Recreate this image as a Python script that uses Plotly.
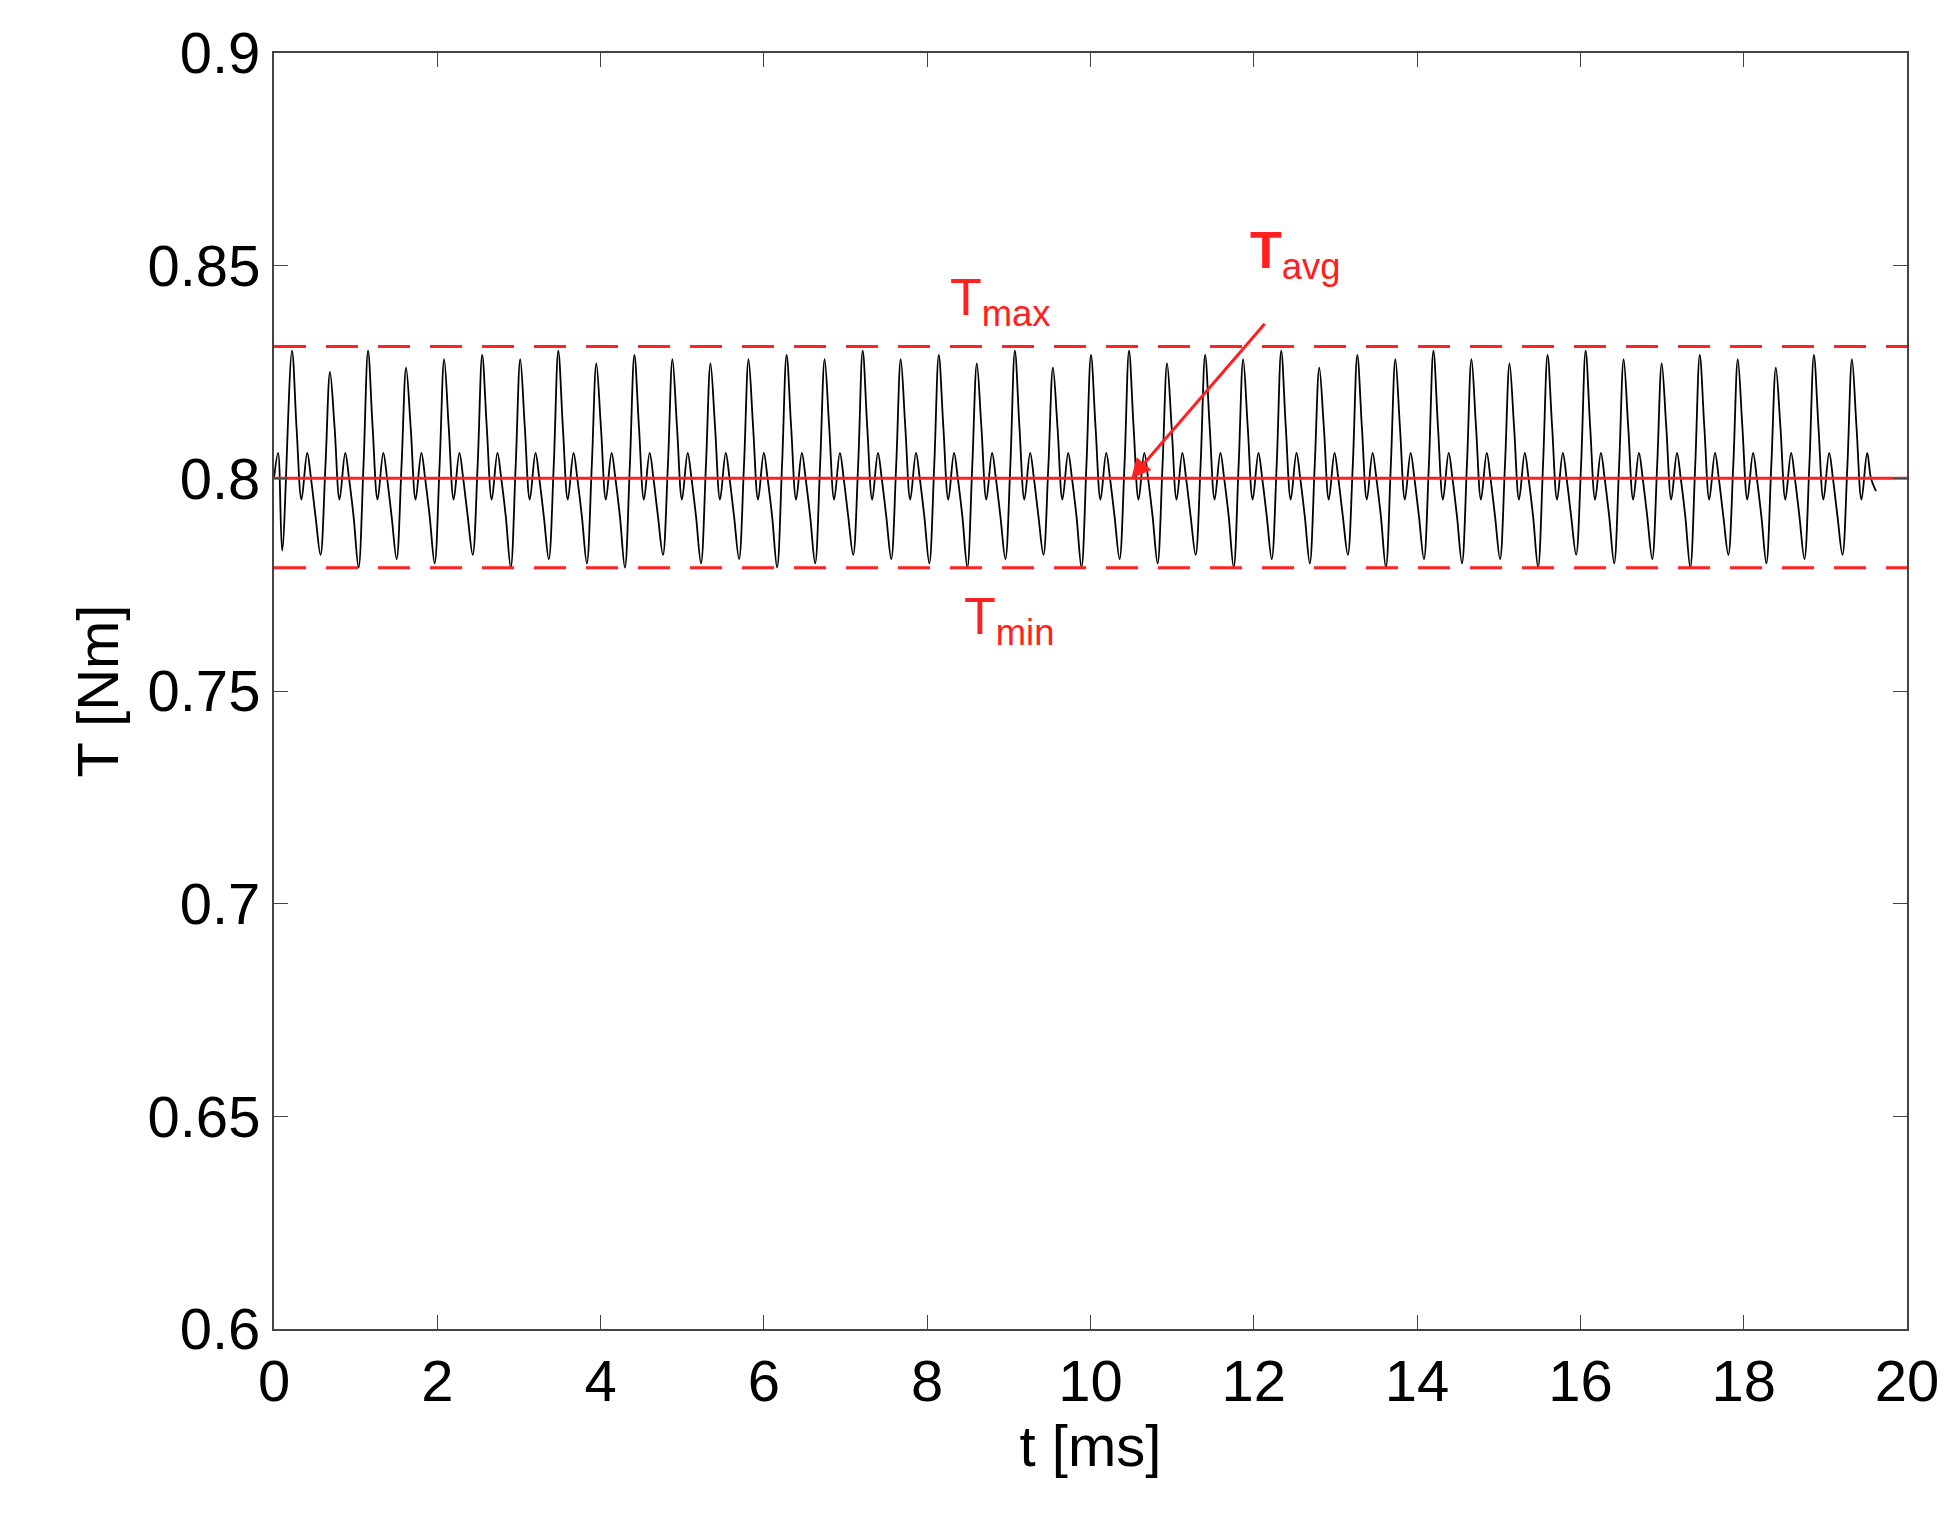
import plotly.graph_objects as go

period = 0.466
n_cycles = 42
peaks = [0.830,0.825,0.830,0.826,0.828,0.829,0.828,0.830,0.827,0.829,0.828,0.827,0.828,0.829,0.828,0.830,0.828,0.829,0.827,0.830,0.826,
         0.829,0.830,0.827,0.829,0.828,0.830,0.826,0.829,0.828,0.830,0.828,0.827,0.829,0.830,0.828,0.827,0.829,0.828,0.826,0.829,0.828]
troughs = [0.782,0.779,0.781,0.780,0.782,0.779,0.781,0.780,0.779,0.782,0.780,0.781,0.779,0.780,0.782,0.781,0.780,0.779,0.781,0.782,0.779,
           0.781,0.780,0.782,0.779,0.781,0.780,0.782,0.779,0.781,0.780,0.781,0.779,0.782,0.780,0.781,0.779,0.782,0.780,0.781,0.782,0.780]
phase = [0.0, 0.12, 0.25, 0.40, 0.50, 0.62, 0.75, 0.88]
shape_mid = [None, 0.812, 0.795, 0.806, 0.800, 0.791, None, 0.803]

t, T = [0.0, 0.05, 0.10], [0.800, 0.806, 0.783]
for k in range(n_cycles):
    for ph, v in zip(phase, shape_mid):
        x = 0.22 + (k + ph) * period
        if x > 19.6:
            break
        if v is None:
            v = peaks[k] if ph == 0.0 else troughs[k]
        t.append(x); T.append(v)
t.append(19.62); T.append(0.797)

T_max, T_avg, T_min = 0.831, 0.800, 0.779
red = "#ff2020"
fig = go.Figure()
fig.add_trace(go.Scatter(x=t, y=T, mode="lines", line=dict(color="black", width=1.8, shape="spline"), showlegend=False))
for y, d in [(T_max, "32px,20px"), (T_min, "32px,20px"), (T_avg, "solid")]:
    fig.add_trace(go.Scatter(x=[0, 20], y=[y, y], mode="lines",
                             line=dict(color=red, width=3, dash=d), showlegend=False))

f = dict(family="Liberation Sans, Arial", size=52, color=red)
fig.add_annotation(x=8.9, y=0.8417, text="T<sub>max</sub>", showarrow=False, font=f)
fig.add_annotation(x=9.0, y=0.7668, text="T<sub>min</sub>", showarrow=False, font=f)
fig.add_annotation(x=12.5, y=0.8528, text="<b>T</b><sub>avg</sub>", showarrow=False, font=f)
fig.add_annotation(x=10.5, y=0.8, ax=12.15, ay=0.8367, xref="x", yref="y", axref="x", ayref="y",
                   text="", showarrow=True, arrowhead=2, arrowsize=1.3, arrowwidth=3, arrowcolor=red)

tf = dict(family="Liberation Sans, Arial", size=58, color="black")
ax = dict(showgrid=False, zeroline=False, showline=True, linecolor="#444", linewidth=2, mirror="ticks",
          ticks="inside", ticklen=14, tickcolor="#444", tickfont=tf)
fig.update_xaxes(range=[0, 20], dtick=2, title=dict(text="t [ms]", font=tf, standoff=10), **ax)
fig.update_yaxes(range=[0.6, 0.9], dtick=0.05, tickformat="~g",
                 title=dict(text="T [Nm]", font=tf, standoff=10), **ax)
fig.update_layout(width=1957, height=1533, plot_bgcolor="white", paper_bgcolor="white",
                  margin=dict(l=266, r=58, t=35, b=212))
fig.write_html("out.html")
